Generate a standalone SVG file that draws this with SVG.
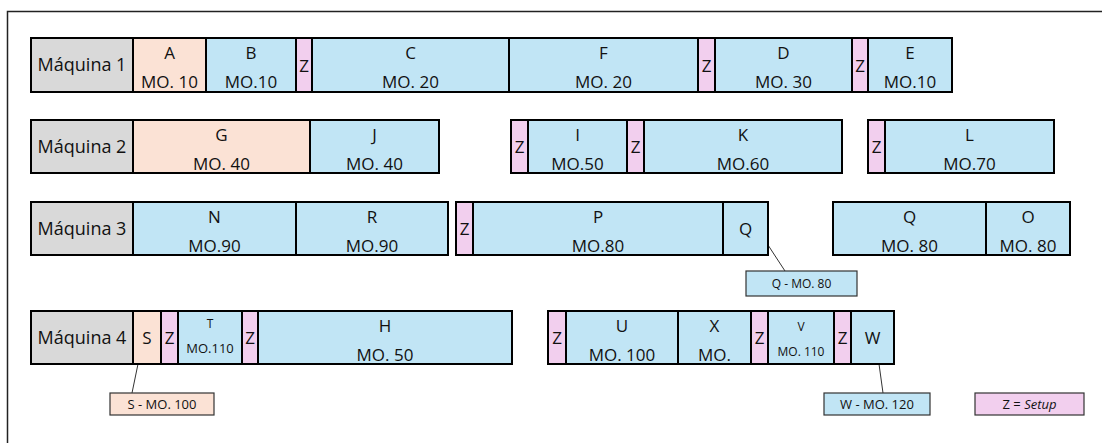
<svg xmlns="http://www.w3.org/2000/svg" width="1102" height="443" viewBox="0 0 1102 443">
<style>
.b{stroke:#000;stroke-width:2}
.g{fill:#d9d9d9}.pe{fill:#fbe2d5}.bl{fill:#c1e5f5}.pk{fill:#f2cfee}
.c{stroke:#333;stroke-width:1.2}
text{font-family:"Open Sans","Noto Sans","Liberation Sans",sans-serif;fill:#111;text-anchor:middle}
.m{font-size:18px}.t{font-size:17px}.s{font-size:13px}.xs{font-size:12px}
.ln{stroke:#333;stroke-width:1;fill:none}
</style>
<rect width="1102" height="443" fill="#fff"/>
<path d="M7.5,443 V11.5 H1102" fill="none" stroke="#222" stroke-width="1.5"/>

<g id="connectors">
<line class="ln" x1="768" y1="245" x2="785" y2="271"/>
<line class="ln" x1="138" y1="364" x2="132" y2="393"/>
<line class="ln" x1="879" y1="364" x2="883" y2="393"/>
</g>

<!-- Row 1 -->
<g id="m1"><rect class="b g" x="31" y="38" width="102" height="54"/><text class="m" x="82" y="71">Máquina 1</text></g>
<g id="A"><rect class="b pe" x="133" y="38" width="73" height="54"/><text class="t" x="169.5" y="59">A</text><text class="t" x="169.5" y="88">MO. 10</text></g>
<g id="B"><rect class="b bl" x="206" y="38" width="90" height="54"/><text class="t" x="251" y="59">B</text><text class="t" x="251" y="88">MO.10</text></g>
<g id="z1a"><rect class="b pk" x="296" y="38" width="16" height="54"/><text class="t" x="304" y="72">Z</text></g>
<g id="C"><rect class="b bl" x="312" y="38" width="197" height="54"/><text class="t" x="410.5" y="59">C</text><text class="t" x="410.5" y="88">MO. 20</text></g>
<g id="F"><rect class="b bl" x="509" y="38" width="189" height="54"/><text class="t" x="603.5" y="59">F</text><text class="t" x="603.5" y="88">MO. 20</text></g>
<g id="z1b"><rect class="b pk" x="698" y="38" width="17" height="54"/><text class="t" x="706.5" y="72">Z</text></g>
<g id="D"><rect class="b bl" x="715" y="38" width="137" height="54"/><text class="t" x="783.5" y="59">D</text><text class="t" x="783.5" y="88">MO. 30</text></g>
<g id="z1c"><rect class="b pk" x="852" y="38" width="16" height="54"/><text class="t" x="860" y="72">Z</text></g>
<g id="E"><rect class="b bl" x="868" y="38" width="84" height="54"/><text class="t" x="910" y="59">E</text><text class="t" x="910" y="88">MO.10</text></g>

<!-- Row 2 -->
<g id="m2"><rect class="b g" x="31" y="120" width="102" height="53"/><text class="m" x="82" y="153">Máquina 2</text></g>
<g id="G"><rect class="b pe" x="133" y="120" width="177" height="53"/><text class="t" x="221.5" y="141">G</text><text class="t" x="221.5" y="170">MO. 40</text></g>
<g id="J"><rect class="b bl" x="310" y="120" width="129" height="53"/><text class="t" x="374.5" y="141">J</text><text class="t" x="374.5" y="170">MO. 40</text></g>
<g id="z2a"><rect class="b pk" x="511" y="120" width="17" height="53"/><text class="t" x="519.5" y="153">Z</text></g>
<g id="I"><rect class="b bl" x="528" y="120" width="99" height="53"/><text class="t" x="577.5" y="141">I</text><text class="t" x="577.5" y="170">MO.50</text></g>
<g id="z2b"><rect class="b pk" x="627" y="120" width="17" height="53"/><text class="t" x="635.5" y="153">Z</text></g>
<g id="K"><rect class="b bl" x="644" y="120" width="198" height="53"/><text class="t" x="743" y="141">K</text><text class="t" x="743" y="170">MO.60</text></g>
<g id="z2c"><rect class="b pk" x="868" y="120" width="17" height="53"/><text class="t" x="876.5" y="153">Z</text></g>
<g id="L"><rect class="b bl" x="885" y="120" width="169" height="53"/><text class="t" x="969.5" y="141">L</text><text class="t" x="969.5" y="170">MO.70</text></g>

<!-- Row 3 -->
<g id="m3"><rect class="b g" x="31" y="202" width="102" height="53"/><text class="m" x="82" y="235">Máquina 3</text></g>
<g id="N"><rect class="b bl" x="133" y="202" width="163" height="53"/><text class="t" x="214.5" y="223">N</text><text class="t" x="214.5" y="252">MO.90</text></g>
<g id="R"><rect class="b bl" x="296" y="202" width="152" height="53"/><text class="t" x="372" y="223">R</text><text class="t" x="372" y="252">MO.90</text></g>
<g id="z3a"><rect class="b pk" x="456" y="202" width="17" height="53"/><text class="t" x="464.5" y="235">Z</text></g>
<g id="P"><rect class="b bl" x="473" y="202" width="250" height="53"/><text class="t" x="598" y="223">P</text><text class="t" x="598" y="252">MO.80</text></g>
<g id="Q1"><rect class="b bl" x="723" y="202" width="45" height="53"/><text class="t" x="745.5" y="235">Q</text></g>
<g id="Q2"><rect class="b bl" x="833" y="202" width="153" height="53"/><text class="t" x="909.5" y="223">Q</text><text class="t" x="909.5" y="252">MO. 80</text></g>
<g id="O"><rect class="b bl" x="986" y="202" width="84" height="53"/><text class="t" x="1028" y="223">O</text><text class="t" x="1028" y="252">MO. 80</text></g>
<g id="qcall"><rect class="c bl" x="746" y="271" width="111" height="25"/><text class="xs" x="801.5" y="288">Q - MO. 80</text></g>

<!-- Row 4 -->
<g id="m4"><rect class="b g" x="31" y="311" width="102" height="53"/><text class="m" x="82" y="344">Máquina 4</text></g>
<g id="S"><rect class="b pe" x="133" y="311" width="28" height="53"/><text class="t" x="147" y="344">S</text></g>
<g id="z4a"><rect class="b pk" x="161" y="311" width="17" height="53"/><text class="t" x="169.5" y="344">Z</text></g>
<g id="T"><rect class="b bl" x="178" y="311" width="64" height="53"/><text class="xs" x="210" y="328">T</text><text class="s" x="210" y="353">MO.110</text></g>
<g id="z4b"><rect class="b pk" x="242" y="311" width="16" height="53"/><text class="t" x="250" y="344">Z</text></g>
<g id="H"><rect class="b bl" x="258" y="311" width="254" height="53"/><text class="t" x="385" y="332">H</text><text class="t" x="385" y="361">MO. 50</text></g>
<g id="z4c"><rect class="b pk" x="548" y="311" width="18" height="53"/><text class="t" x="557" y="344">Z</text></g>
<g id="U"><rect class="b bl" x="566" y="311" width="112" height="53"/><text class="t" x="622" y="332">U</text><text class="t" x="622" y="361">MO. 100</text></g>
<g id="X"><rect class="b bl" x="678" y="311" width="73" height="53"/><text class="t" x="714.5" y="332">X</text><text class="t" x="714.5" y="361">MO.</text></g>
<g id="z4d"><rect class="b pk" x="751" y="311" width="17" height="53"/><text class="t" x="759.5" y="344">Z</text></g>
<g id="V"><rect class="b bl" x="768" y="311" width="66" height="53"/><text class="xs" x="801" y="331">V</text><text class="xs" x="801" y="356">MO. 110</text></g>
<g id="z4e"><rect class="b pk" x="834" y="311" width="17" height="53"/><text class="t" x="842.5" y="344">Z</text></g>
<g id="W"><rect class="b bl" x="851" y="311" width="43" height="53"/><text class="t" x="872.5" y="344">W</text></g>
<g id="scall"><rect class="c pe" x="110" y="393" width="104" height="22"/><text class="s" x="162" y="409">S - MO. 100</text></g>
<g id="wcall"><rect class="c bl" x="824" y="393" width="106" height="22"/><text class="s" x="877" y="409">W - MO. 120</text></g>
<g id="legend"><rect class="c pk" x="975" y="393" width="109" height="22"/><text class="s" x="1029.5" y="409">Z = <tspan font-style="italic">Setup</tspan></text></g>
</svg>
